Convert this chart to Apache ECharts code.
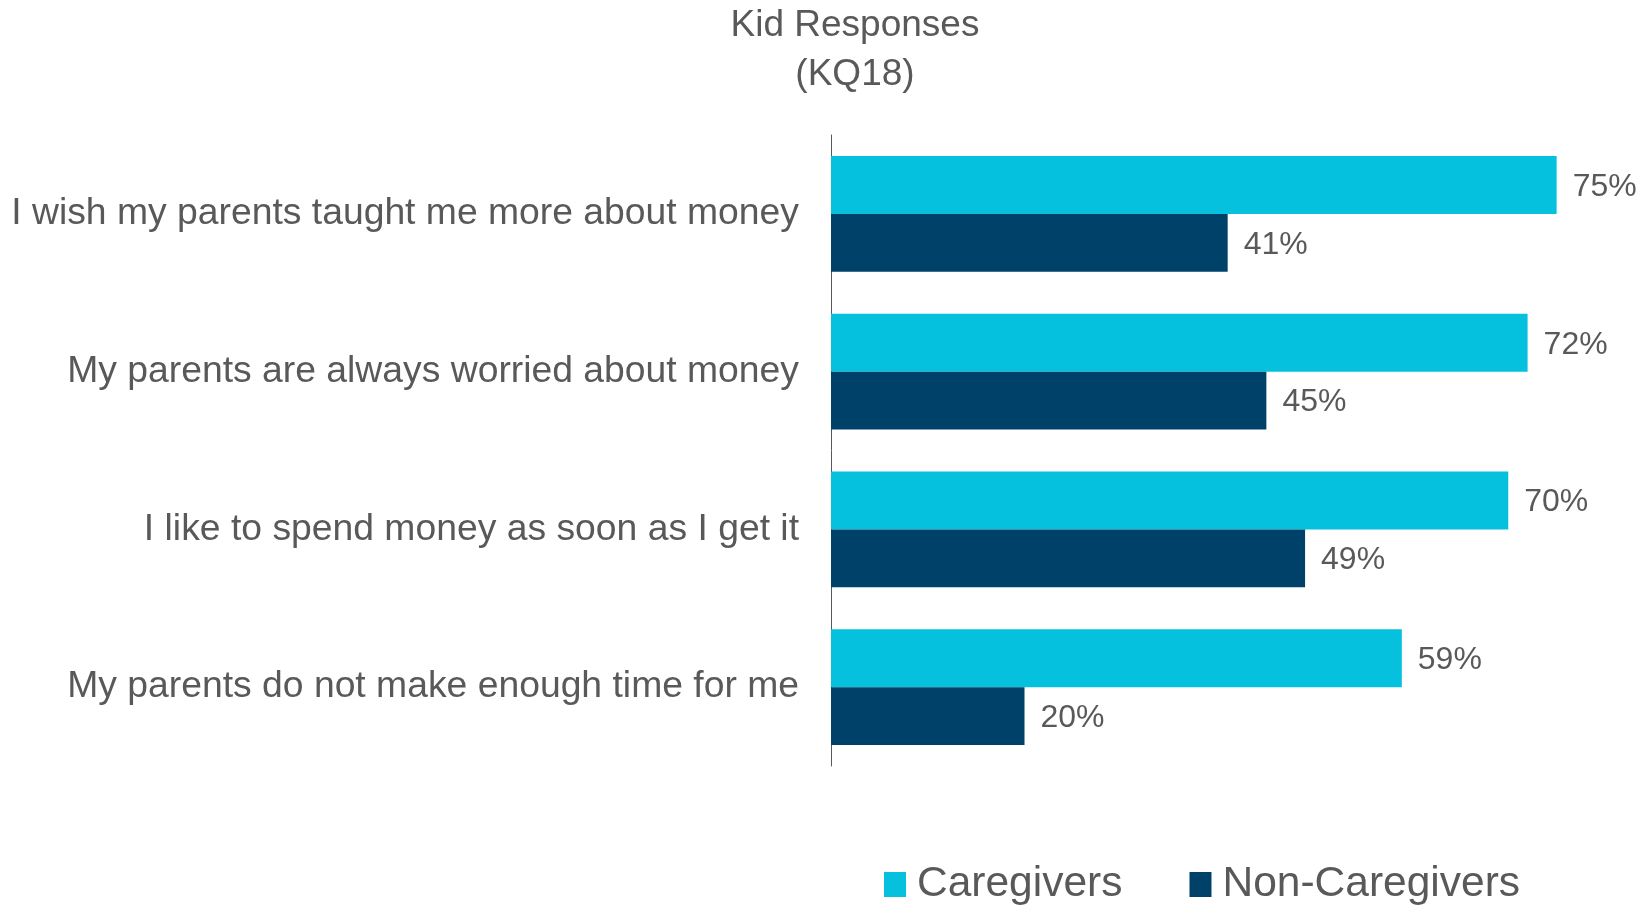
<!DOCTYPE html>
<html>
<head>
<meta charset="utf-8">
<script src="https://cdn.jsdelivr.net/npm/echarts@6/dist/echarts.min.js"></script>
<style>html,body{margin:0;padding:0;background:#fff}#c{width:1650px;height:907px}</style>
</head>
<body>
<div id="c"></div>
<script>
const categories = [
  "I wish my parents taught me more about money",
  "My parents are always worried about money",
  "I like to spend money as soon as I get it",
  "My parents do not make enough time for me"
];
const caregivers = [75, 72, 70, 59];
const nonCaregivers = [41, 45, 49, 20];
const seriesNames = ["Caregivers", "Non-Caregivers"];

const chart = echarts.init(document.getElementById('c'));
const font = "'Liberation Sans', Arial, sans-serif";
const txt = '#595959';
const lbl = {show: true, position: 'right', distance: 16, offset: [0, 2], fontSize: 32, color: txt, fontFamily: font, formatter: '{c}%'};
chart.setOption({
  animation: false,
  title: {
    text: 'Kid Responses\n(KQ18)',
    left: 855, top: 1, textAlign: 'center', padding: 0,
    textStyle: {fontSize: 37, fontWeight: 'normal', color: txt, fontFamily: font, lineHeight: 49}
  },
  legend: {
    left: 884, top: 863, itemWidth: 22, itemHeight: 25, itemGap: 67, padding: 0,
    icon: 'rect',
    textStyle: {fontSize: 42.5, color: txt, fontFamily: font, padding: [0, 0, 0, 6]},
    data: seriesNames
  },
  grid: {left: 831, top: 135, width: 774, height: 631, containLabel: false},
  xAxis: {type: 'value', min: 0, max: 80, show: false, splitLine: {show: false}},
  yAxis: {
    type: 'category', inverse: true, data: categories,
    axisLine: {show: true, lineStyle: {color: '#595959', width: 1}},
    axisTick: {show: false},
    axisLabel: {margin: 32, fontSize: 37.3, color: txt, fontFamily: font, padding: [3, 0, 0, 0]}
  },
  series: [
    {name: seriesNames[0], type: 'bar', data: caregivers, barGap: '0%', barCategoryGap: '26.6%',
     itemStyle: {color: '#06C1DE'}, label: lbl},
    {name: seriesNames[1], type: 'bar', data: nonCaregivers, barGap: '0%', barCategoryGap: '26.6%',
     itemStyle: {color: '#00416A'}, label: lbl}
  ]
});
</script>
</body>
</html>
